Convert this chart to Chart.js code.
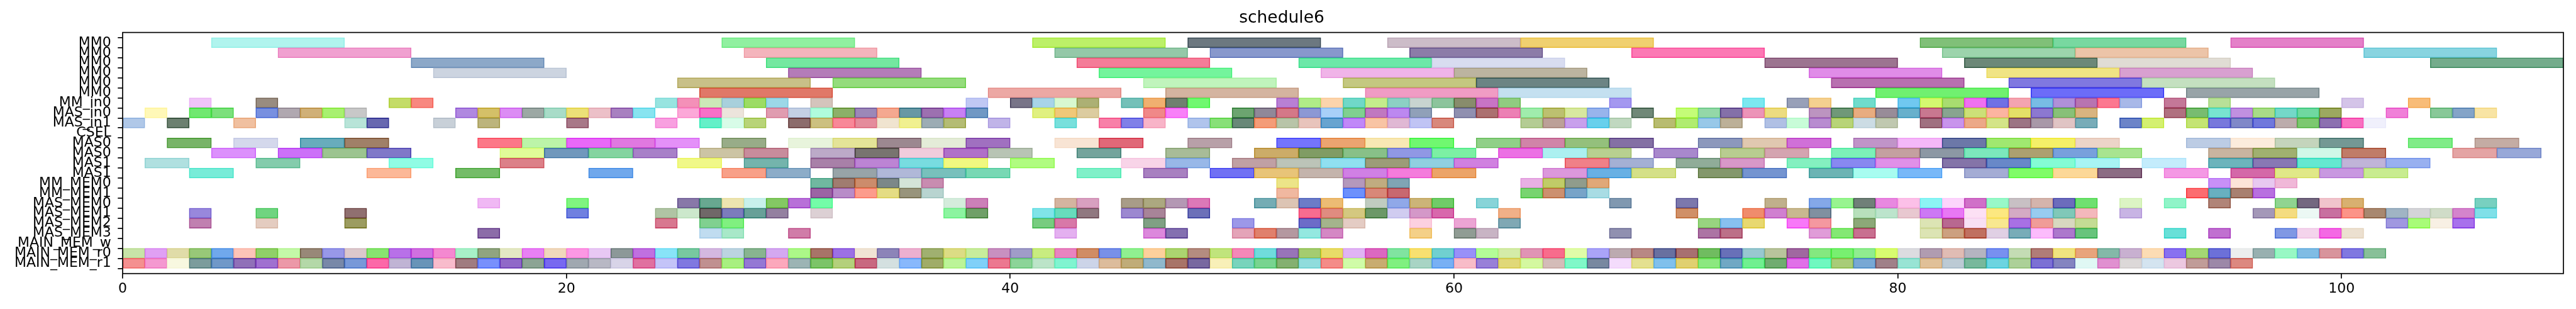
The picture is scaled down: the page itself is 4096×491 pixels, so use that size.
<!DOCTYPE html>
<html>
<head>
<meta charset="utf-8">
<script src="https://cdn.jsdelivr.net/npm/chart.js@4.4.1/dist/chart.umd.min.js"></script>
<style>
  html, body { margin: 0; padding: 0; background: #fff; }
  canvas { display: block; }
</style>
</head>
<body>
<canvas id="chart" width="4096" height="491"></canvas>
<script>
const rowNames = ['MM0', 'MM0', 'MM0', 'MM0', 'MM0', 'MM0', 'MM_in0', 'MAS_in0', 'MAS_in1', 'CSEL',
  'MAS0', 'MAS0', 'MAS1', 'MAS1', 'MM_MEM0', 'MM_MEM1', 'MAS_MEM0', 'MAS_MEM1', 'MAS_MEM2', 'MAS_MEM3',
  'MAIN_MEM_w', 'MAIN_MEM_r0', 'MAIN_MEM_r1'];
const xTicks = [0, 20, 40, 60, 80, 100];
const xMax = 110;

// long tasks: [start, end]
const mm0A = [[4,10],[27,33],[41,47],[48,54],[57,63],[63,69],[81,87],[87,93],[95,101]];
const mm0AColors = ['#b0f4ee','#90f0a0','#bcf068','#6c7880','#ccbcc8','#f0d070','#80c078','#78d8a0','#e480c8'];
const mm0B = [[7,13],[28,34],[42,48],[49,55],[58,64],[68,74],[82,88],[88,94],[101,107]];
const mm0BColors = ['#f0a0d0','#f4b4bc','#94c8a8','#8898cc','#8c7ca8','#fc78b4','#9cd4ac','#ecc4a8','#88d4e0'];
const mm0C = [[13,19],[29,35],[43,49],[53,59],[59,65],[74,80],[83,89],[89,95],[104,110]];
const mm0CColors = ['#8ca8c8','#74e8a0','#f47c98','#6ce8a8','#d8dcf0','#9c7490','#6c8878','#e0dcd4','#74ac8c'];
const mm0D = [[14,20],[30,36],[44,50],[54,60],[60,66],[76,82],[84,90],[90,96]];
const mm0DColors = ['#ccd4e0','#b47cb8','#74f49c','#f0b4e8','#bcb4a0','#e08ce8','#f0e484','#d8a0d0'];
const mm0E = [[25,31],[32,38],[46,52],[55,61],[61,67],[77,83],[85,91],[91,97]];
const mm0EColors = ['#c8c088','#94dc7c','#c0f4bc','#c4c880','#6c8484','#b870b0','#8078e0','#c4e0c0'];
const mm0F = [[26,32],[39,45],[47,53],[56,62],[62,68],[79,85],[86,92],[93,99]];
const mm0FColors = ['#e07868','#eca8a4','#d4b4a0','#f09cc4','#c4e0f0','#70f070','#6c6cf8','#98a4a8'];

// unit-length tasks: start times
const mmIn0 = [3,6,12,13,24,25,26,27,28,29,31,38,40,41,42,43,45,46,47,48,52,53,54,55,56,57,58,59,60,61,62,67,73,75,76,78,80,81,82,83,84,85,86,87,88,89,90,92,94,100,103];
const mmIn0Colors = ['#f0c4f8','#988c80','#c4dc68','#f88880','#98e4e0','#f490b8','#cce8b8','#a8d0dc','#9cdc64','#9cd8e8','#d4c4bc','#c0c8f4','#787488','#a8d4e8','#d8f8d0','#acb074','#74c0b8','#f0b070','#708070','#70f870','#b880d4','#b0ec88','#fcd4ac','#70d8c8','#c4ec8c','#8cd0c4','#c8d4d0','#8cc49c','#888c6c','#c874c4','#90cc80','#a498f0','#7ce8f0','#98a0b8','#f4d090','#70dccc','#70c8f0','#d4f870','#a8dc70','#f070f0','#7070e4','#f4a4b0','#78bce4','#b090d8','#b874b0','#fc7890','#a8b8e8','#c47898','#b8e098','#d4c4e8','#f8bc78'];

const masIn0 = [1,3,4,6,7,8,9,10,15,16,17,18,19,20,21,22,23,25,26,27,29,30,31,32,33,34,35,36,37,38,41,42,43,46,47,50,51,52,53,54,55,56,57,58,60,61,62,63,64,65,66,68,70,71,72,73,74,76,77,78,79,80,81,82,83,84,85,86,87,88,92,93,94,95,96,97,98,99,102,104,105,106];
const masIn0Colors = ['#fff8b8','#70e870','#7ce07c','#7890e0','#b0a8b0','#d0b078','#a8f070','#c8c8c8','#b088e0','#d4c068','#dc8cf4','#9ca8a4','#a8dcc8','#ece078','#ecc0c8','#a880c0','#88e4f0','#fca8d8','#f870c8','#ece4dc','#e09cb0','#c4d0e4','#b0fcdc','#8cb068','#9c88b8','#f4a890','#6898a4','#9c70b0','#c880f4','#7098c4','#e0f080','#f0c878','#dccca0','#f08888','#f880f8','#6ca470','#908898','#d47888','#8c98d4','#a8d0f8','#80d090','#c078c0','#bc88f0','#90a0b8','#9090b0','#ac7070','#ec80b4','#a0ecac','#bcc070','#d8e8a0','#98b4ec','#708878','#c4fc78','#94d8a8','#8470a8','#ec94b8','#ecdc80','#bc94c0','#709878','#e8ac80','#988c98','#68b0cc','#c87890','#88a490','#cce078','#fcb4a0','#e4e068','#8c78d0','#88c078','#d8b480','#b07080','#78bc70','#78e4d0','#c090e0','#a8dc88','#74d8c8','#70d8a0','#9ca860','#f080d8','#88c898','#84a4c8','#f8e4a4'];

const masIn1 = [0,2,5,10,11,14,16,20,24,26,27,28,30,31,32,33,34,35,36,37,39,42,44,45,46,48,49,50,51,52,53,54,55,56,57,58,59,63,64,65,66,67,69,70,71,72,74,75,76,77,78,79,81,82,83,84,85,86,87,88,90,91,93,94,95,96,97,98,99,100,101];
const masIn1Colors = ['#b0c8e8','#6c8070','#f0c0a0','#b8e4d8','#6868b0','#c8d0d8','#bcb47c','#a87888','#f8a0e0','#64f0c8','#d8fce8','#b8d478','#8c6c6c','#ccc080','#f88898','#e48c9c','#f0e4d0','#f0f090','#9cacb4','#b4bc74','#c0b4e8','#78e0dc','#f880a8','#8080e8','#f8b4c8','#b0c4ec','#88e078','#688878','#f49c78','#b8c4a8','#e8c4bc','#68a4d0','#c088f8','#f8c4a4','#e0b8d4','#c0c4f4','#d8887c','#b4cc94','#bca098','#c8a0ec','#68d0ec','#c0d8c0','#b8bc70','#b0ec70','#98c8e8','#bcb098','#b0c0e4','#c8fcd8','#b88cd0','#b8d478','#ccdce4','#c0c8b0','#a07080','#c894ec','#eca888','#d4e488','#9c7484','#a898a8','#e0c4c4','#78acb8','#6c84c8','#d4f070','#c4e474','#7878dc','#8088c8','#7078dc','#bcacac','#7cc870','#8c70b0','#f870c0','#f0f0fc'];

const mas0A = [[2,4],[5,7],[8,10],[10,12],[16,18],[18,20],[20,22],[22,24],[24,26],[27,29],[30,32],[32,34],[34,36],[36,38],[38,40],[42,44],[44,46],[48,50],[52,54],[54,56],[56,58],[58,60],[61,63],[63,65],[65,67],[67,69],[71,73],[73,75],[75,77],[78,80],[80,82],[82,84],[84,86],[86,88],[88,90],[93,95],[95,97],[97,99],[99,101],[103,105],[106,108]];
const mas0AColors = ['#78b468','#d4d8ec','#68acbc','#a08068','#fc7888','#bcf4a8','#e868f8','#e078e0','#e490f8','#98ac88','#e8f4dc','#e4e498','#9c8890','#e4ecd8','#a070c0','#f8e4d4','#e06878','#b8a0a8','#7474fc','#eca470','#f8e8b4','#70f870','#90d088','#d084a8','#94c07c','#8470a4','#8c98bc','#e0c8b0','#d070d8','#c094c8','#f4b8f8','#6c78a8','#a0e870','#f4f068','#ecd4c8','#bccce4','#fcecdc','#c4d4bc','#749894','#80ec88','#c4aca4'];
const mas0B = [[4,6],[7,9],[9,11],[11,13],[17,19],[19,21],[21,23],[23,25],[26,28],[28,30],[31,33],[33,35],[35,37],[37,39],[39,41],[43,45],[47,49],[51,53],[53,55],[55,57],[57,59],[59,61],[62,64],[64,66],[66,68],[69,71],[72,74],[74,76],[77,79],[79,81],[81,83],[83,85],[85,87],[87,89],[89,91],[94,96],[96,98],[98,100],[100,102],[105,107],[107,109]];
const mas0BColors = ['#dc90fc','#cc70f8','#9cc490','#8078c8','#e0fc98','#7098bc','#84d4a0','#a880c8','#ccc4a4','#c88c9c','#bcaac8','#787470','#f0ccdc','#b070c8','#b8c4b4','#74a49c','#a8bc98','#ccac68','#809c64','#88c088','#9098e4','#7cf0a4','#ec70e4','#acf0f0','#b8d090','#a888cc','#b8cc90','#d4a4b0','#7cf0b8','#c4a0a0','#8c98a4','#7ce8bc','#aca070','#78a0dc','#a8e490','#c8b4a0','#a0b070','#d0f8e8','#c07c68','#e4a4a4','#98a8d8'];
const mas1A = [[1,3],[6,8],[12,14],[17,19],[25,27],[28,30],[31,33],[33,35],[35,37],[37,39],[40,42],[45,47],[47,49],[50,52],[52,54],[54,56],[56,58],[58,60],[60,62],[65,67],[67,69],[70,72],[72,74],[75,77],[77,79],[79,81],[82,84],[84,86],[86,88],[88,90],[91,93],[94,96],[96,98],[98,100],[100,102],[102,104]];
const mas1AColors = ['#b0e0e0','#84ccac','#90fce4','#dc8088','#f0f888','#74b4ac','#a880a8','#bc84d4','#78dce0','#f0f880','#b0fc80','#f8d4e8','#98b8e8','#c0a0a4','#bcc4b8','#90e0f0','#9c9c78','#90d0e0','#d080e0','#f08088','#a4b0d4','#90ac98','#d898c8','#84f0c0','#8888f0','#e090e8','#8474a8','#6888c8','#84fcd4','#a8f4f4','#c4ecfc','#6cb4bc','#8878b4','#64e8d0','#c0b4d8','#98b0f0'];
const mas1B = [[3,5],[11,13],[15,17],[21,23],[27,29],[29,31],[32,34],[34,36],[36,38],[38,40],[43,45],[46,48],[49,51],[51,53],[53,55],[55,57],[57,59],[59,61],[64,66],[66,68],[68,70],[71,73],[73,75],[76,78],[78,80],[80,82],[83,85],[85,87],[87,89],[89,91],[92,94],[95,97],[97,99],[99,101],[101,103]];
const mas1BColors = ['#78ecd8','#fcb898','#74bc68','#70a8ec','#f8a088','#8cacc8','#98a4a8','#b0b8d8','#78c0bc','#78d8b4','#80f0c8','#a880c0','#7070f4','#e8c478','#c4b4ac','#d080e4','#f47cdc','#eca468','#dc98dc','#68b0e4','#d4e088','#84986c','#7494d0','#6cb4b4','#a8fcf0','#78b8f8','#a4acd4','#80fc68','#fcd898','#8c6c84','#f498e4','#d468a8','#e0e888','#c898e0','#c8ec90'];

const mmMem0 = [31,32,33,34,35,36,52,55,56,57,63,64,65,66,94,95,96,97];
const mmMem0Colors = ['#70b8a0','#a07c70','#cc8c6c','#7c8888','#d4e4d8','#c88cb0','#ece488','#b498bc','#c0ac80','#80a4b4','#e8b0e4','#c0cc68','#909c8c','#e0a878','#c890f8','#fce4d8','#e8c8f0','#f0b8d8'];
const mmMem1 = [31,32,33,34,35,36,52,55,56,57,63,64,65,66,93,94,95,96];
const mmMem1Colors = ['#9c64a4','#b88cc8','#fc9c8c','#e4dc84','#98947c','#b8d4d0','#f0b8a0','#6c90fc','#d88878','#c86870','#78d470','#cc9070','#78a4c8','#a8dce4','#fc6c70','#68b0c0','#a88070','#b870e0'];

const masMem0 = [16,20,25,26,27,28,29,30,31,37,38,42,43,45,46,47,48,51,52,53,54,56,57,58,59,61,67,70,74,76,77,78,79,80,81,82,83,84,85,86,87,88,90,92,94,97,98,99,100,106];
const masMem0Colors = ['#f0b8f4','#80f480','#8878a8','#68a890','#ece4b0','#c8f0ec','#84c864','#b870d8','#74fca8','#d4ecdc','#cc80b8','#d4b4a0','#d8a0c0','#a89c88','#aca880','#b498b4','#dc78b8','#74acb4','#dcc4b4','#6c7cc8','#ecbc74','#c0ccc0','#90a8e8','#ccb478','#70cc68','#88d4d8','#8098b0','#7c78ac','#c0b08c','#84a8e8','#98f490','#708078','#e888e0','#fcc0e8','#8cf4f4','#fcd4fc','#d070c8','#98f8c8','#c8c0c4','#d4b4ac','#6c6cbc','#70e070','#dcf4c4','#90f4c8','#b08478','#90d490','#746880','#f0c4cc','#d8b070','#78d0c0'];
const masMem1 = [3,6,10,20,24,25,26,27,28,29,31,37,38,41,42,43,45,46,48,53,54,55,56,57,58,59,62,70,73,74,75,76,78,79,80,81,82,83,84,85,86,87,88,90,96,97,98,99,100,101,102,103,104,105,106];
const masMem1Colors = ['#9888dc','#70d480','#907070','#7080e0','#b0c4a4','#cce8cc','#706868','#7c7cbc','#68a098','#9480a0','#dcd0d4','#8cf4a0','#70a068','#80e4e8','#68dcbc','#907880','#9c88d0','#a88498','#6c70b8','#f86c90','#e08c80','#d4c880','#6c9868','#d0ccf0','#d498c8','#d868ac','#f0b088','#d09068','#f08c6c','#d080d0','#c8b890','#8090a0','#b8e0bc','#bce4cc','#e8c8d0','#cc78f4','#e878f4','#fce0f4','#fce880','#d4aac4','#98ccf0','#80c8b8','#f4b8bc','#c8b4e4','#a498b8','#f4dc80','#ecf8f4','#c870a0','#fc9488','#a88870','#a0b4c4','#d4d4d8','#d0dcc8','#d484cc','#80e0e8'];
const masMem2 = [3,6,10,24,26,27,41,42,46,50,53,54,55,58,60,62,71,72,73,75,76,78,81,82,83,84,85,86,87,88,102,103,104,105];
const masMem2Colors = ['#c080b0','#e4ccc0','#9c9c60','#d87890','#80d090','#80f080','#78cc80','#d878a8','#80a084','#9c98e8','#6c6cc8','#a4b48c','#e4ccc4','#fcd0e0','#eca4d4','#80a8b4','#98d480','#88c0f0','#e8d870','#f878f8','#f498a0','#8ca878','#dce4b4','#b86890','#f8e0f4','#f8e890','#a870e4','#f09c98','#d8d8c0','#c4dc94','#a098e0','#a8fc78','#f8f0e4','#a870ec'];
const masMem3 = [16,26,27,30,42,46,47,50,51,52,53,54,58,60,61,67,71,72,76,77,78,81,82,83,84,85,86,87,88,92,94,97,98,99,100];
const masMem3Colors = ['#8c6ca8','#c0dcf0','#a8e8c8','#d07ca8','#e4b0f0','#dc88dc','#8470b0','#e4a4b8','#e0806c','#b498a0','#94e8e0','#d488c4','#f4d088','#909c94','#c8b4c4','#9090b0','#ac74a4','#bc7088','#e09cd8','#84e874','#c87090','#dce4b4','#cca080','#c07060','#e0d0e4','#78acb8','#fcbcfc','#ac78cc','#68c47c','#68e0d8','#c070d0','#8098e4','#f4d4ec','#f468e4','#ece0d0'];

const mainMemR0 = [0,1,2,3,4,5,6,7,8,9,10,11,12,13,14,15,16,17,18,19,20,21,22,23,24,25,26,27,28,29,30,31,32,33,34,35,36,37,38,39,40,41,42,43,44,45,46,47,48,49,50,51,52,53,54,55,56,57,58,59,60,61,62,63,64,65,66,67,68,69,70,71,72,73,74,75,76,77,78,79,80,81,82,83,84,85,86,87,88,89,90,91,92,93,94,95,96,97,98,99,100,101];
const mainMemR0Colors = ['#c8e4a8','#e0a0f4','#e0dca8','#98c878','#70a8ec','#fcc4b8','#90d068','#c4f8a8','#988878','#9898e8','#dcc8cc','#88e470','#b870e8','#d070e0','#f488d0','#a8f0c8','#90a480','#e4e8c4','#e880f4','#f0d8bc','#fc98e4','#e8c8f4','#8c9898','#c070e0','#88e4f8','#78c8a0','#d4b8e0','#bcd4e0','#88b490','#d4a8f0','#acf888','#a87468','#9c70e4','#f0e4d4','#8c84b8','#ecb0d0','#a0b070','#dcdc84','#c8ec9c','#c890c0','#a09cc8','#c8ec80','#e884c0','#d08c64','#7890e8','#90f090','#fcd09c','#acd470','#b48c80','#c0e47c','#f488b8','#70dcdc','#9874b8','#a4cc70','#e8dc68','#e0b4f4','#dc68c0','#80e4a0','#f8e070','#70d0d0','#9890f8','#b4fc98','#d4eca8','#e094b4','#f86c8c','#e0fca8','#aaa4f8','#bcaab0','#b88884','#6870a0','#a87070','#70bc60','#6870b8','#98c8d0','#b8c49c','#a068a0','#84e880','#78f070','#90ec90','#d8fc70','#dcdce0','#b09cb0','#e0bcb4','#b4b4c0','#7890f0','#c4dcb4','#b07c78','#f0e480','#e8a47c','#84b8a8','#c8b0d0','#fcdcb4','#8870f0','#a4d874','#6c70d8','#eceeee','#98b0b0','#98f8c4','#80bce4','#d8949c','#8078e0','#88c098'];
const mainMemR1 = [0,1,2,3,4,5,6,7,8,9,10,11,12,13,14,15,16,17,18,19,20,21,22,23,24,25,26,27,28,29,30,31,32,33,34,35,36,37,38,39,40,41,42,43,44,45,46,47,48,49,50,51,52,53,54,55,56,57,58,59,60,61,62,63,64,65,66,67,68,69,70,71,72,73,74,75,76,77,78,79,80,81,82,83,84,85,86,87,88,89,90,91,92,93,94,95];
const mainMemR1Colors = ['#f49090','#f498d0','#f8f8e0','#7c9c9c','#7098c8','#9070b8','#a070d0','#ec98a8','#b4d8a8','#7888a8','#7898d8','#fc68a8','#c0b4d4','#6894b8','#f8bccc','#a07c80','#7890fc','#9068c8','#8ca494','#7868f0','#a0a8b0','#b8b8c4','#d8d4e8','#e070a0','#c4c4f8','#8078e0','#c09090','#a8f080','#9478d4','#fca8bc','#9cb4b4','#7cc468','#b4d07c','#c86880','#d4e0e0','#88b8fc','#a0ac68','#bcf498','#80d0f8','#ec7890','#8cd498','#bce4c8','#80f4d0','#ccd4e8','#dcbc9c','#c0ac78','#90b8cc','#a87468','#7868a0','#f8f0b8','#78d4bc','#78d490','#84b070','#90dcdc','#f48c88','#d0fca8','#c8ac70','#80f080','#a8d4c4','#78b0f4','#f8bcc8','#9880d8','#e0d878','#d4f8a0','#d4bcb8','#80f8c8','#7888a0','#f4dcfc','#e4e090','#80c0ec','#e0d070','#8ce880','#70a8c4','#70f090','#70ac70','#e070e8','#70f8c0','#a8cc78','#78a8d4','#a08088','#98e4d4','#e0c098','#bccad4','#78b89c','#6cd4e0','#acd098','#7c70d4','#8484c0','#e0f8f4','#e090d0','#dcd8d8','#d4e4f0','#ecc8e0','#c09c98','#9c88a8','#dc8880'];

// unit tasks last one time step
const unit = starts => starts.map(s => [s, s + 1]);

const rows = [
  [mm0A, mm0AColors], [mm0B, mm0BColors], [mm0C, mm0CColors], [mm0D, mm0DColors], [mm0E, mm0EColors], [mm0F, mm0FColors],
  [unit(mmIn0), mmIn0Colors], [unit(masIn0), masIn0Colors], [unit(masIn1), masIn1Colors], [[], []],
  [mas0A, mas0AColors], [mas0B, mas0BColors], [mas1A, mas1AColors], [mas1B, mas1BColors],
  [unit(mmMem0), mmMem0Colors], [unit(mmMem1), mmMem1Colors],
  [unit(masMem0), masMem0Colors], [unit(masMem1), masMem1Colors], [unit(masMem2), masMem2Colors], [unit(masMem3), masMem3Colors],
  [[], []], [unit(mainMemR0), mainMemR0Colors], [unit(mainMemR1), mainMemR1Colors]
];

// edge is the same colour, a bit stronger
function edgeOf(hex) {
  const n = parseInt(hex.slice(1), 16);
  const c = [n >> 16, (n >> 8) & 255, n & 255].map(v => Math.max(0, Math.min(255, Math.round(1.4 * v - 102))));
  return 'rgb(' + c.join(',') + ')';
}

const points = [], fills = [], edges = [];
rows.forEach((row, r) => {
  row[0].forEach((span, i) => {
    points.push({ x: span, y: r });
    fills.push(row[1][i]);
    edges.push(edgeOf(row[1][i]));
  });
});

Chart.defaults.font.family = 'DejaVu Sans';
Chart.defaults.color = '#000';

const frame = {
  id: 'frame',
  afterDatasetsDraw(chart) {
    const a = chart.chartArea, c = chart.ctx;
    c.save();
    c.strokeStyle = '#000';
    c.lineWidth = 1.7;
    c.strokeRect(a.left, a.top, a.right - a.left, a.bottom - a.top);
    c.restore();
  }
};

const ctx = document.getElementById('chart').getContext('2d');
new Chart(ctx, {
  type: 'bar',
  data: {
    datasets: [{
      data: points,
      backgroundColor: fills,
      borderColor: edges,
      borderWidth: 1.6,
      borderSkipped: false,
      barPercentage: 1,
      categoryPercentage: 1
    }]
  },
  options: {
    indexAxis: 'y',
    responsive: false,
    animation: false,
    devicePixelRatio: 1,
    layout: { padding: { left: 0, right: 20, top: 0, bottom: 0 } },
    plugins: {
      legend: { display: false },
      tooltip: { enabled: false },
      title: {
        display: true,
        text: 'schedule6',
        color: '#000',
        font: { size: 26.5, weight: 'normal' },
        padding: { top: 12.9, bottom: 6.9 }
      }
    },
    scales: {
      x: {
        type: 'linear',
        min: 0,
        max: xMax,
        afterBuildTicks: s => { s.ticks = xTicks.map(v => ({ value: v })); },
        afterFit: s => { s.height = 56.3; },
        border: { display: false },
        grid: { drawOnChartArea: false, color: '#000', lineWidth: 1.7, tickLength: 7.7 },
        ticks: { font: { size: 22 }, padding: 4, maxRotation: 0, autoSkip: false }
      },
      y: {
        type: 'linear',
        reverse: true,
        min: -0.5,
        max: rowNames.length - 0.5,
        afterBuildTicks: s => { s.ticks = rowNames.map((_, i) => ({ value: i })); },
        afterFit: s => { s.width = 195; },
        border: { display: false },
        grid: { drawOnChartArea: false, color: '#000', lineWidth: 1.7, tickLength: 7.7 },
        ticks: { font: { size: 22 }, padding: 10.5, autoSkip: false, callback: v => rowNames[v] }
      }
    }
  },
  plugins: [frame]
});
</script>
</body>
</html>
